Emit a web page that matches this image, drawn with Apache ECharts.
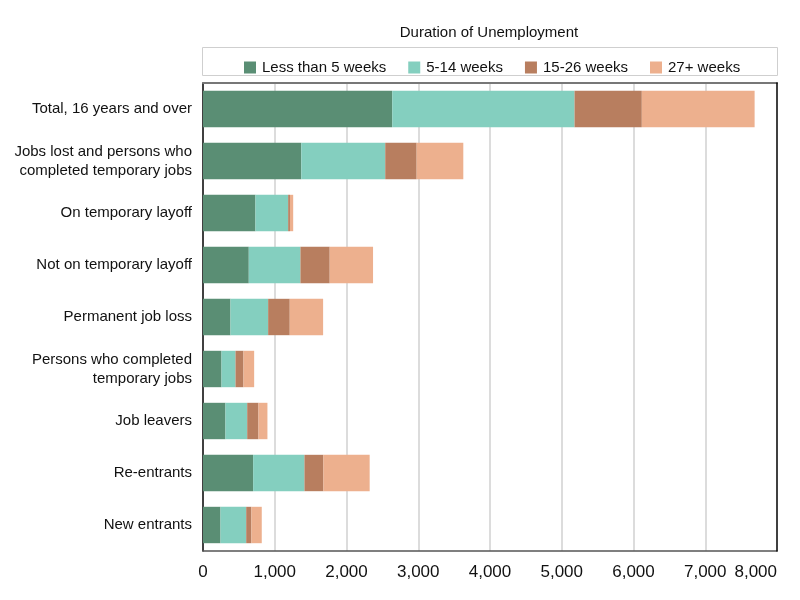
<!DOCTYPE html>
<html>
<head>
<meta charset="utf-8">
<script src="https://cdn.jsdelivr.net/npm/echarts@6/dist/echarts.min.js"></script>
<style>
  html, body { margin: 0; padding: 0; background: #fff; }
  #chart { width: 800px; height: 600px; }
</style>
</head>
<body>
<div id="chart"></div>
<script>
const categories = [
  'Total, 16 years and over',
  'Jobs lost and persons who\ncompleted temporary jobs',
  'On temporary layoff',
  'Not on temporary layoff',
  'Permanent job loss',
  'Persons who completed\ntemporary jobs',
  'Job leavers',
  'Re-entrants',
  'New entrants'
]
const seriesNames = ['Less than 5 weeks', '5-14 weeks', '15-26 weeks', '27+ weeks']
const lessThan5 = [2638, 1370, 731, 638, 383, 258, 313, 699, 244]
const weeks5to14 = [2540, 1170, 456, 720, 525, 195, 303, 715, 358]
const weeks15to26 = [938, 438, 25, 408, 301, 111, 157, 264, 73]
const weeks27plus = [1572, 650, 45, 604, 465, 149, 125, 645, 144]
const xTicks = [0, 1000, 2000, 3000, 4000, 5000, 6000, 7000, 8000]
const colors = ['#5a8e74', '#84cfbf', '#b87e5f', '#edb08e']

const font = '"Liberation Sans", Arial, sans-serif'

const chart = echarts.init(document.getElementById('chart'))

const makeSeries = (name, data, i) => ({
  name,
  type: 'bar',
  stack: 'total',
  data,
  barWidth: '70%',
  itemStyle: { color: colors[i] },
  emphasis: { disabled: true }
})

chart.setOption({
  animation: false,
  color: colors,
  graphic: [
    {
      type: 'text',
      x: 489,
      y: 33,
      style: {
        text: 'Duration of Unemployment',
        align: 'center',
        verticalAlign: 'middle',
        fill: '#111',
        font: '15px ' + font
      }
    },
    {
      type: 'rect',
      shape: { x: 202.5, y: 47.5, width: 575, height: 28 },
      style: { fill: 'none', stroke: '#cfcfcf', lineWidth: 1 },
      z: -1
    }
  ],
  legend: {
    top: 55,
    left: 239,
    itemWidth: 12,
    itemHeight: 12,
    itemGap: 22,
    icon: 'rect',
    data: seriesNames,
    textStyle: { color: '#111', fontSize: 15, fontFamily: font, padding: [0, 0, 0, 1] }
  },
  grid: {
    left: 203,
    right: 23,
    top: 83,
    bottom: 49,
    containLabel: false
  },
  xAxis: [
    {
      type: 'value',
      min: xTicks[0],
      max: xTicks[xTicks.length - 1],
      interval: 1000,
      axisLine: { show: true, lineStyle: { color: '#555', width: 1.5 } },
      axisTick: { show: false },
      axisLabel: {
        color: '#111',
        fontSize: 17,
        fontFamily: font,
        margin: 13,
        alignMaxLabel: 'right',
        formatter: (v) => v.toLocaleString('en-US')
      },
      splitLine: {
        show: true,
        showMinLine: false,
        showMaxLine: false,
        lineStyle: { color: '#d0d0d0', width: 1.5 }
      }
    },
    {
      type: 'value',
      position: 'top',
      min: xTicks[0],
      max: xTicks[xTicks.length - 1],
      axisLine: { show: true, lineStyle: { color: '#777', width: 2 } },
      axisTick: { show: false },
      axisLabel: { show: false },
      splitLine: { show: false }
    }
  ],
  yAxis: [
    {
      type: 'category',
      data: categories,
      inverse: true,
      axisLine: { show: true, lineStyle: { color: '#000', width: 1.5 } },
      axisTick: { show: false },
      axisLabel: {
        color: '#111',
        fontSize: 15,
        fontFamily: font,
        margin: 11,
        align: 'right',
        lineHeight: 19
      }
    },
    {
      type: 'category',
      data: categories,
      inverse: true,
      position: 'right',
      axisLine: { show: true, onZero: false, lineStyle: { color: '#000', width: 1.5 } },
      axisTick: { show: false },
      axisLabel: { show: false },
      z: 10
    }
  ],
  series: [
    makeSeries(seriesNames[0], lessThan5, 0),
    makeSeries(seriesNames[1], weeks5to14, 1),
    makeSeries(seriesNames[2], weeks15to26, 2),
    makeSeries(seriesNames[3], weeks27plus, 3)
  ]
})
</script>
</body>
</html>
